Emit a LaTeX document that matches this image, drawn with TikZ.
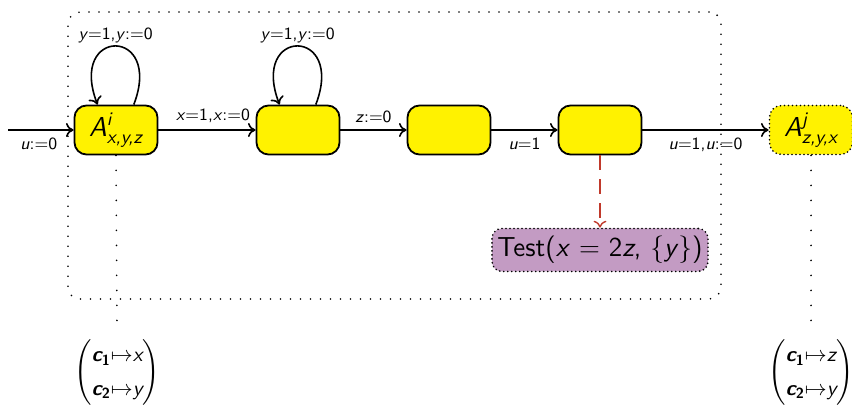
\documentclass[tikz,border=0pt]{standalone}
\usepackage{amsmath}
\usetikzlibrary{arrows.meta}
\renewcommand{\familydefault}{\sfdefault}
\definecolor{stateyellow}{RGB}{255,242,0}
\definecolor{testpurple}{RGB}{195,155,195}
\definecolor{testred}{RGB}{192,57,43}
% sans-serif oblique variables and bold channel names
\newcommand{\mv}[1]{\text{\normalfont\sffamily\slshape #1}}
\newcommand{\ch}[1]{\text{\normalfont\sffamily\bfseries\slshape c}_{\text{\normalfont\sffamily\bfseries #1}}}
\begin{document}
\begin{tikzpicture}[x=0.5pt,y=-0.5pt,
  font=\sffamily\fontsize{8.6}{10}\selectfont,
  bigtext/.style={font=\sffamily\fontsize{13.7}{16}\selectfont},
  state/.style={draw=black, line width=0.9pt, fill=stateyellow, rounded corners=6pt,
    minimum width=41.5pt, minimum height=24.5pt, inner sep=0pt, bigtext},
  ghost/.style={state, dash pattern=on 0pt off 2pt, line cap=round},
  testbox/.style={draw=black, line width=0.9pt, dash pattern=on 0pt off 2pt, line cap=round,
    fill=testpurple, rounded corners=5pt, minimum width=108pt, minimum height=21.5pt,
    inner sep=0pt, bigtext},
  frame/.style={draw=black, line width=0.9pt, dash pattern=on 0pt off 5pt, line cap=round,
    rounded corners=6pt, minimum width=326.5pt, minimum height=143.5pt, inner sep=0pt},
  trans/.style={-{To[length=3.8pt,width=7pt]}, line width=0.8pt},
  testarrow/.style={-{To[length=3.4pt,width=6.4pt]}, line width=0.7pt, draw=testred,
    dash pattern=on 7.5pt off 4.5pt},
  vdots/.style={line width=0.9pt, dash pattern=on 0pt off 7.5pt, line cap=round},
  binding/.style={font=\sffamily\fontsize{10.5}{12.5}\selectfont, inner sep=0pt}
]
\useasboundingbox (0,0) rectangle (852,406);

% enclosing dotted region
\node[frame] (region) at (394.5,155.5) {};

% automaton states
\node[state] (a1) at (116,130) {$\mv{A}^{\mv{i}}_{\mv{x,y,z}}$};
\node[state] (a2) at (298,130) {};
\node[state] (a3) at (449,130) {};
\node[state] (a4) at (600,130) {};
\node[ghost] (aj) at (811,130) {$\mv{A}^{\mv{j}}_{\mv{z,y,x}}$};
\node[testbox] (test) at (600,250) {Test(\textsl{x} = 2\textsl{z}, \{\textsl{y}\})};
\coordinate (start) at (8,130);

% variable bindings
\renewcommand{\arraystretch}{1.35}
\node[binding] (m1) at (117,372)
  {$\left(\begin{array}{@{}l@{}}\ch{1}{\mapsto}\mv{x}\\ \ch{2}{\mapsto}\mv{y}\end{array}\right)$};
\node[binding] (m2) at (811,372)
  {$\left(\begin{array}{@{}l@{}}\ch{1}{\mapsto}\mv{z}\\ \ch{2}{\mapsto}\mv{y}\end{array}\right)$};

% transitions
\draw[trans] (start) -- node[below, xshift=-1pt] {\textsl{u}:=0} (a1);
\draw[trans] (a1.55) .. controls +(30,-78) and +(-30,-78) .. node[above, inner sep=1pt] {\textsl{y}=1,\textsl{y}:=0} (a1.126);
\draw[trans] (a2.55) .. controls +(30,-78) and +(-30,-78) .. node[above, inner sep=1pt] {\textsl{y}=1,\textsl{y}:=0} (a2.126);
\draw[trans] (a1) -- node[above, xshift=3pt] {\textsl{x}=1,\textsl{x}:=0} (a2);
\draw[trans] (a2) -- node[above] {\textsl{z}:=0} (a3);
\draw[trans] (a3) -- node[below] {\textsl{u}=1} (a4);
\draw[trans] (a4) -- node[below] {\textsl{u}=1,\textsl{u}:=0} (aj);
\draw[testarrow] (a4) -- (test);

% binding links
\draw[vdots] (a1.south) -- ([yshift=5pt]m1.north);
\draw[vdots] (aj.south) -- ([yshift=5pt]m2.north);
\end{tikzpicture}
\end{document}
